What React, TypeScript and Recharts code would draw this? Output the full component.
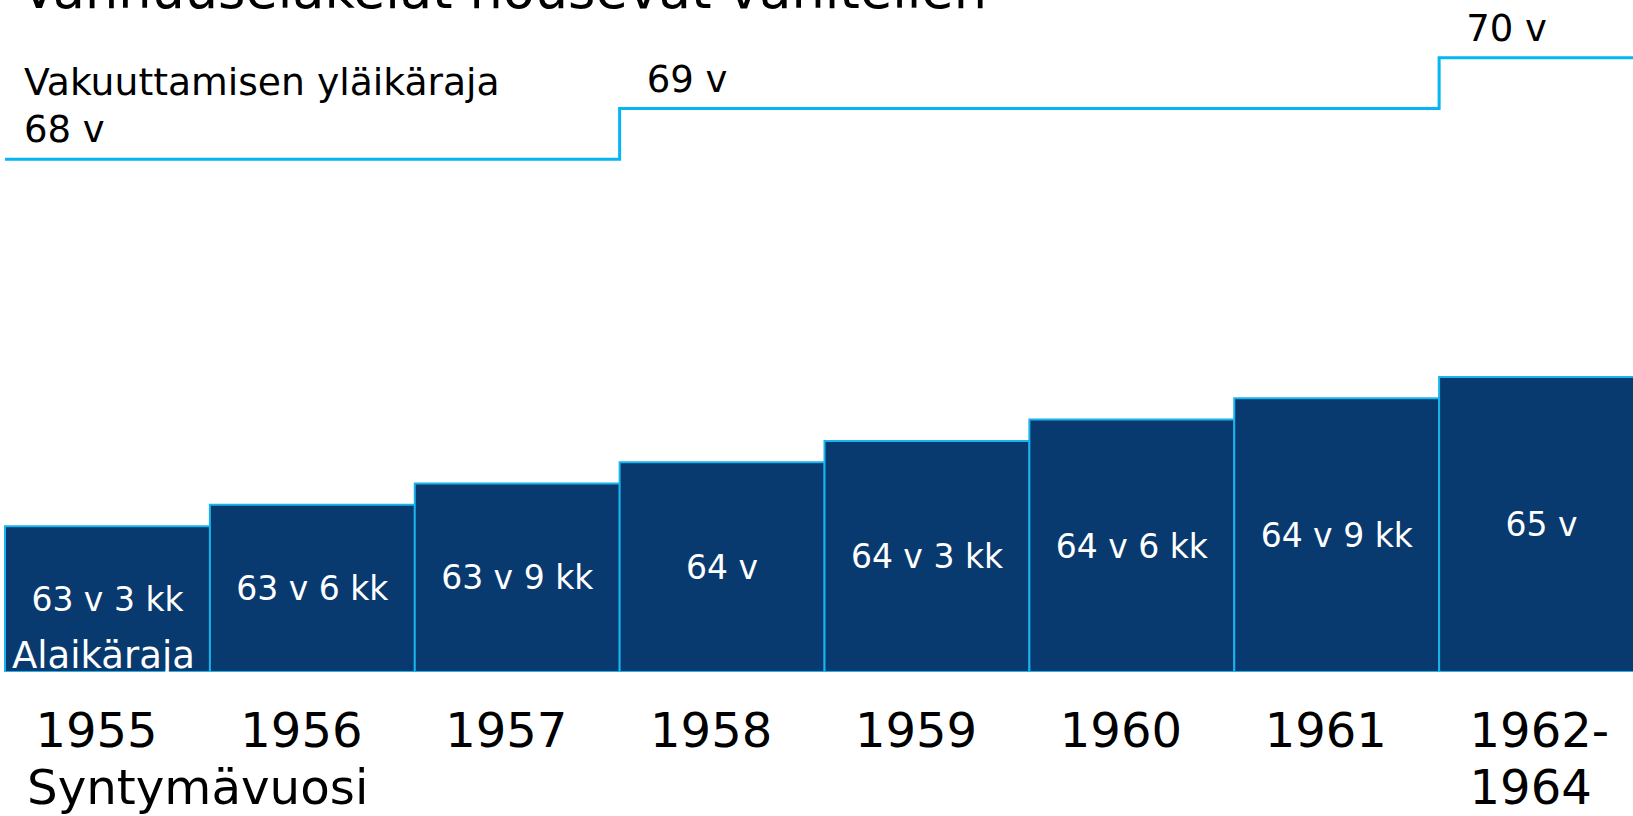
import React from 'react';
import { ComposedChart, Bar, Line, XAxis, YAxis, LabelList } from 'recharts';

const birthYears = ['1955', '1956', '1957', '1958', '1959', '1960', '1961', '1962-1964'];
const retirementAge = [63.25, 63.5, 63.75, 64, 64.25, 64.5, 64.75, 65];
const ageLabels = ['63 v 3 kk', '63 v 6 kk', '63 v 9 kk', '64 v', '64 v 3 kk', '64 v 6 kk', '64 v 9 kk', '65 v'];
const upperLimit = [68, 68, 68, 69, 69, 69, 69, 70];
const upperLimitLabels = ['68 v', '69 v', '70 v'];

const titleText = 'Vanhuuseläkeiät nousevat vähitellen';
const upperTitle = 'Vakuuttamisen yläikäraja';
const lowerTitle = 'Alaikäraja';
const axisTitle = 'Syntymävuosi';

const FONT = 'DejaVu Sans, Verdana, sans-serif';
const BAR_FILL = '#083A6F';
const BAR_STROKE = '#1AB4EC';
const LINE_COLOR = '#05B6F2';

const barData = birthYears.map((year, i) => ({ year, age: retirementAge[i], label: ageLabels[i] }));

// step line points at cohort boundaries, label where the limit changes
const lineData = (() => {
  const pts: { pos: number; limit: number; text: string }[] = [];
  let li = 0;
  upperLimit.forEach((v, i) => {
    const changed = i === 0 || v !== upperLimit[i - 1];
    pts.push({ pos: i, limit: v, text: changed ? upperLimitLabels[li++] : '' });
  });
  pts.push({ pos: upperLimit.length, limit: upperLimit[upperLimit.length - 1], text: '' });
  return pts;
})();

const YearTick = (props: any) => {
  const { x, y, payload } = props;
  const val: string = payload.value;
  const parts = val.includes('-') ? [val.split('-')[0] + '-', val.split('-')[1]] : [val];
  return (
    <g>
      {parts.map((p, k) => (
        <text key={k} x={x - 72} y={y + 75 + k * 57} textAnchor="start" fill="#000" fontSize={48} fontFamily={FONT}>
          {p}
        </text>
      ))}
    </g>
  );
};

const UpperLabel = (props: any) => {
  const { x, y, value, index } = props;
  if (!value) return null;
  return (
    <text x={x + (index === 0 ? 19 : 27)} y={y - 17} fill="#000" fontSize={37} fontFamily={FONT}>
      {value}
    </text>
  );
};

export default function App() {
  return (
    <div style={{ position: 'fixed', left: 0, top: 0, width: 1633, height: 816, overflow: 'hidden', background: '#fff' }}>
      <ComposedChart
        width={1660}
        height={816}
        data={barData}
        margin={{ top: 0, right: 16, left: 5, bottom: 0 }}
        barCategoryGap={0}
        barGap={0}
      >
        <XAxis
          xAxisId="cat"
          dataKey="year"
          height={144}
          axisLine={false}
          tickLine={false}
          tickSize={0}
          tickMargin={0}
          interval={0}
          tick={<YearTick />}
        />
        <XAxis xAxisId="pos" type="number" dataKey="pos" domain={[0, 8]} hide allowDataOverflow />
        <YAxis yAxisId="age" domain={[61.54, 69.42]} hide allowDataOverflow />
        <YAxis yAxisId="upper" domain={[57.9, 71.14]} hide allowDataOverflow />
        <Bar
          xAxisId="cat"
          yAxisId="age"
          dataKey="age"
          fill={BAR_FILL}
          stroke={BAR_STROKE}
          strokeWidth={2}
          isAnimationActive={false}
        >
          <LabelList dataKey="label" position="center" fill="#fff" fontSize={33} fontFamily={FONT} />
        </Bar>
        <Line
          xAxisId="pos"
          yAxisId="upper"
          data={lineData}
          dataKey="limit"
          type="stepAfter"
          stroke={LINE_COLOR}
          strokeWidth={3}
          dot={false}
          activeDot={false}
          isAnimationActive={false}
        >
          <LabelList dataKey="text" content={<UpperLabel />} />
        </Line>
      </ComposedChart>
      <svg width={1633} height={816} style={{ position: 'absolute', left: 0, top: 0, pointerEvents: 'none' }}>
        <text x={21} y={8} fontSize={52.5} fontFamily={FONT} fill="#000">{titleText}</text>
        <text x={24} y={95} fontSize={37.7} fontFamily={FONT} fill="#000">{upperTitle}</text>
        <text x={12} y={668} fontSize={37} fontFamily={FONT} fill="#fff">{lowerTitle}</text>
        <text x={27} y={804} fontSize={48.3} fontFamily={FONT} fill="#000">{axisTitle}</text>
      </svg>
    </div>
  );
}
